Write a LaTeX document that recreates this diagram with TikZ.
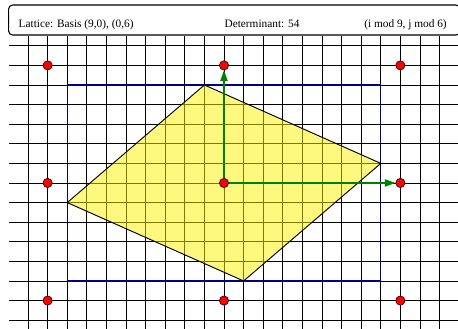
\documentclass[tikz,border=0pt]{standalone}
\usepackage{fontspec}
\setmainfont{Liberation Serif}
\usetikzlibrary{arrows.meta}
\begin{document}
\begin{tikzpicture}[x=14.7pt,y=14.7pt,>={Triangle[length=8pt,width=5.5pt]},
   font=\fontsize{8.5}{10}\selectfont,
   pt/.style={circle,draw,fill=red,line width=0.4pt,minimum size=7pt,inner sep=0pt},
   gv/.style={->,green!50!black,line width=0.9pt},
   txt/.style={inner sep=0pt}]
  \useasboundingbox (-11.43,-7.449) rectangle (11.94,9.337);
  \begin{scope}
    \clip (-10.97,-7.449) rectangle (11.94,7.47);
    \draw[line width=0.6pt,step=1] (-12,-8) grid (12,8);
  \end{scope}
  \draw[blue!50!black,line width=0.8pt] (-8,-5) rectangle (8,5);
  \filldraw[fill=yellow,fill opacity=0.5,line width=0.7pt]
    (-1,5) -- (8,1) -- (1,-5) -- (-8,-1) -- cycle;
  \foreach \i/\a in {-9/l,0/c,9/r}
    \foreach \j/\b in {-6/b,0/m,6/t}
      \node[pt] (\a\b) at (\i,\j) {};
  \draw[gv] (cm)--(rm);
  \draw[gv] (cm)--(ct);
  \draw[rounded corners=3pt,line width=0.8pt,fill=white] (-10.99,7.55) rectangle (12.04,9.08);
  \node[txt,anchor=base west] (lab) at (-10.49,7.94) {Lattice: Basis (9,0), (0,6)};
  \node[txt,anchor=base] (det) at (1.94,7.94) {Determinant: 54};
  \node[txt,anchor=base east] (mod) at (11.38,7.94) {(i mod 9, j mod 6)};
\end{tikzpicture}
\end{document}
